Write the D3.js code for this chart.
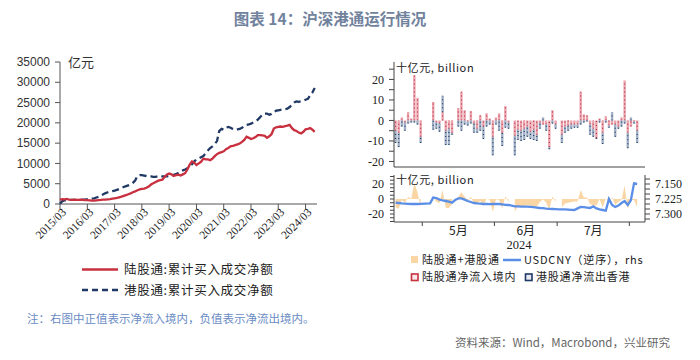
<!DOCTYPE html>
<html><head><meta charset="utf-8">
<script src="https://cdn.jsdelivr.net/npm/d3@7"></script>
<style>body{margin:0;background:#fff}svg{display:block}</style>
</head><body><div id="chart"></div>
<script>
// ---------- DATA ----------
// Left chart: monthly cumulative net buying (亿元), 2015/03 .. 2024/07
const leftStart = "2015/03";
const northCum = [1100,1200,1150,1250,1100,1000,1050,1000,1000,1050,
 1000,950,950,900,850,850,900,950,1000,1100,1100,1150,
 1200,1300,1400,1500,1650,1800,2000,2200,2400,2600,2900,3100,
 3400,3600,3700,3800,4000,4300,4800,5100,5400,5700,5900,6000,
 6700,7300,7500,7300,6900,7100,7200,7000,7300,7600,8500,9700,
 10500,10200,9600,10000,10400,11200,11000,11000,10800,11200,11800,12300,
 12600,12800,13000,13500,13800,14200,14300,14500,14700,14900,15300,15800,
 16600,16300,16000,16200,16500,17000,17000,16900,16800,16300,16700,17200,
 18600,18900,19000,19100,19000,19200,19300,19500,18700,18200,18000,17600,
 17400,17800,18400,18500,18700,18300,17800];
const southCum = [100,700,900,950,1000,1000,1000,1000,1000,1000,
 1050,1100,1200,1250,1300,1400,1600,1800,2100,2400,2700,2900,
 3100,3200,3300,3500,3700,4000,4200,4400,4600,4800,5200,5800,
 6900,7100,7100,7000,6900,6800,6800,6700,6700,6800,6700,6800,
 6800,6800,6900,7000,7200,7400,7600,8000,8300,8500,8800,9300,
 9800,10500,11000,11200,11500,11800,12500,13200,13800,14200,14800,15500,
 18000,18500,18300,18800,19000,18800,18500,18300,18400,18500,18800,19200,
 19500,19600,19800,20100,20400,20800,21400,22000,22300,22300,22000,22200,
 22600,23000,23100,23200,23300,23400,23500,23900,24500,25000,25300,25200,
 25300,25500,25700,25900,26800,27500,28600];
const leftYTicks = [0,5000,10000,15000,20000,25000,30000,35000];
const leftXTicks = ["2015/03","2016/03","2017/03","2018/03","2019/03","2020/03","2021/03","2022/03","2023/03","2024/03"];
const leftLegend = ["陆股通:累计买入成交净额","港股通:累计买入成交净额"];

// Right charts: daily flows (十亿元), weekdays 2024-04-18 .. 2024-08-07 (null = closed / no data)
const rightStart = "2024-04-18", rightEnd = "2024-08-07";
const northDaily = [-5,-6,1.5,-1,4,1,22,11,-8,null,null,null,9,-1,-1.5,4,-5,-4,-6,null,
 6,14,5,-0.5,4.5,-1.5,-4,2.5,-3,3.5,1,-8,1.5,3.5,-6,7,-1,null,-7.5,-4.5,
 -5,-4,-3,-5.5,-4.5,-7,-1,-2,-2,-13,5,-2,null,-7,-3,-2.5,-2,-2,-2,14,
 3,2.5,-2,-4,-8.5,1,-6,2,-2.5,-2,-2,-3,1.5,19.5,-6,-3,-0.5,-5,null,null];
const southDaily = [-6,-7,-3,-4,-1.5,-1,-1,-2,-3,null,null,null,-4.5,-3,-4,8,-7,-8,-1,null,
 -3,-5,-2,-2,-1.5,-4.5,-2,-5,-6,-3,-2,-9,-2,-5,-6.5,-3.5,-3,null,-9.5,-5,
 -5,-5.5,-5,-3.5,-5,-3,-3,1.5,-3,-1,-1.5,-2,null,-4,-3,-2.5,-2,-1.5,-1.5,-2,
 -1,-0.5,-5,-4,-0.5,-1,-5.5,-1,-1,4,-6,-1,-3,-1.5,-7.5,1.5,-1,-6,null,null];
const usdcny = [7.243,7.245,7.247,7.248,7.249,7.250,7.250,7.250,7.249,null,null,7.247,7.218,7.220,7.228,7.232,7.235,7.238,7.243,7.230,
 7.222,7.222,7.228,7.235,7.240,7.245,7.247,7.248,7.250,7.250,7.251,7.250,7.250,7.250,7.252,7.254,7.255,null,7.262,7.262,
 7.263,7.263,7.263,7.264,7.266,7.268,7.270,7.271,7.273,7.274,7.275,7.276,7.277,7.277,7.277,7.278,7.279,7.280,7.272,7.265,
 7.266,7.268,7.270,7.262,7.272,7.277,7.280,7.283,7.225,7.255,7.265,7.258,7.245,7.235,7.255,7.230,7.147,7.150,null,null];
const topYTicks = [-20,-15,-10,-5,0,5,10,15,20,25];
const topYLabels = [-20,-10,0,10,20];
const botYTicks = [-30,-25,-20,-15,-10,-5,0,5,10,15,20,25,30];
const botYLabels = [-20,0,20];
const fxTicks = [7.125,7.15,7.175,7.2,7.225,7.25,7.275,7.3,7.325];
const fxLabels = [7.15,7.225,7.3];
const monthLabels = ["5月","6月","7月"];
const yearLabel = "2024";
const unitLabel = "十亿元, billion";
const rightLegend = ["陆股通+港股通","USDCNY（逆序），rhs","陆股通净流入境内","港股通净流出香港"];

const titleText = "图表 14：沪深港通运行情况";
const noteText = "注：右图中正值表示净流入境内，负值表示净流出境内。";
const sourceText = "资料来源：Wind，Macrobond，兴业研究";

// ---------- STYLE ----------
const RED = "#c8303f", NAVY = "#1f3864", ORANGE = "#f9d6a4", BLUE = "#5b8ee6";
const CJK = "'Noto Sans CJK SC','Noto Sans',sans-serif";
const SERIF = "'Liberation Serif','DejaVu Serif',serif";
const SANS = "'Liberation Sans',Arial,sans-serif";

const svg = d3.select("#chart").append("svg").attr("width",700).attr("height",360);
svg.append("rect").attr("width",700).attr("height",360).attr("fill","#fff");

// Title
svg.append("text").attr("x",330).attr("y",25).attr("text-anchor","middle")
  .attr("font-family",CJK).attr("font-weight","bold").attr("font-size",15.5)
  .attr("fill","#71829d").text(titleText);

// ---------- LEFT CHART ----------
const parseM = d3.timeParse("%Y/%m");
const m0 = parseM(leftStart);
const months = northCum.map((_,i)=>d3.timeMonth.offset(m0,i));
const xL = d3.scaleTime().domain([m0, parseM("2024/08")]).range([60,317]);
const yL = d3.scaleLinear().domain([0,35000]).range([204,62]);

const gL = svg.append("g");
gL.append("line").attr("x1",60).attr("x2",60).attr("y1",62).attr("y2",204).attr("stroke","#555");
gL.append("line").attr("x1",60).attr("x2",317).attr("y1",204).attr("y2",204).attr("stroke","#555");
leftYTicks.forEach(v=>{
  gL.append("line").attr("x1",55).attr("x2",60).attr("y1",yL(v)).attr("y2",yL(v)).attr("stroke","#555");
  gL.append("text").attr("x",50).attr("y",yL(v)).attr("dy","0.35em").attr("text-anchor","end")
    .attr("font-family",SANS).attr("font-size",12).attr("fill","#333").text(v);
});
leftXTicks.forEach(t=>{
  const x = xL(parseM(t));
  gL.append("line").attr("x1",x).attr("x2",x).attr("y1",204).attr("y2",209).attr("stroke","#555");
  gL.append("text").attr("transform",`translate(${x+4},210) rotate(-45)`).attr("text-anchor","end")
    .attr("dy","0.35em").attr("font-family",SERIF).attr("font-size",11.5).attr("fill","#222").text(t);
});
gL.append("text").attr("x",68).attr("y",67).attr("font-family",CJK).attr("font-size",13).attr("fill","#333").text("亿元");

const lineL = d3.line().x((d,i)=>xL(months[i])).y(d=>yL(d));
gL.append("path").attr("d",lineL(southCum)).attr("fill","none").attr("stroke",NAVY)
  .attr("stroke-width",2.3).attr("stroke-dasharray","7,4");
gL.append("path").attr("d",lineL(northCum)).attr("fill","none").attr("stroke",RED).attr("stroke-width",2.3);

// left legend
[[269.5,RED,null],[290,NAVY,"6,4"]].forEach((r,i)=>{
  gL.append("line").attr("x1",82).attr("x2",118).attr("y1",r[0]).attr("y2",r[0]).attr("stroke",r[1])
    .attr("stroke-width",2.5).attr("stroke-dasharray",r[2]);
  gL.append("text").attr("x",124).attr("y",r[0]).attr("dy","0.36em").attr("font-family",CJK)
    .attr("font-size",12.5).attr("letter-spacing",0.7).attr("fill","#222").text(leftLegend[i]);
});

// ---------- RIGHT CHARTS ----------
const pD = d3.timeParse("%Y-%m-%d");
const days = d3.timeDay.range(pD(rightStart), d3.timeDay.offset(pD(rightEnd),1))
  .filter(d=>d.getDay()!==0 && d.getDay()!==6);
const idx = d3.range(days.length);
const xB = d3.scaleBand().domain(idx).range([394,645]).paddingInner(0.22).paddingOuter(0.1);
const xC = i => xB(i)+xB.bandwidth()/2;
const slotX = i => 394 + i*(251/days.length);

// Upper: stacked bars
const yU = d3.scaleLinear().domain([-22.7,28.5]).range([167,62]);
const gU = svg.append("g");
const rows = idx.filter(i=>northDaily[i]!==null).map(i=>({i, north:northDaily[i], south:southDaily[i]}));
const stack = d3.stack().keys(["north","south"]).offset(d3.stackOffsetDiverging);
const series = stack(rows);
const fills = {north:"#eaa5af", south:"#a3b1c6"}, strokes = {north:"#b8283c", south:"#1f3864"};
series.forEach(s=>{
  gU.selectAll(null).data(s).join("rect")
    .attr("x",d=>xB(d.data.i)).attr("width",xB.bandwidth())
    .attr("y",d=>yU(Math.max(d[0],d[1]))).attr("height",d=>Math.abs(yU(d[0])-yU(d[1])))
    .attr("fill",fills[s.key]);
  gU.selectAll(null).data(s).join("line")
    .attr("x1",d=>xC(d.data.i)).attr("x2",d=>xC(d.data.i))
    .attr("y1",d=>yU(d[0])).attr("y2",d=>yU(d[1]))
    .attr("stroke",strokes[s.key]).attr("stroke-width",1.1).attr("stroke-dasharray","1,3");
});
gU.append("line").attr("x1",394).attr("x2",394).attr("y1",62).attr("y2",167).attr("stroke","#444");
gU.append("line").attr("x1",394).attr("x2",645).attr("y1",167).attr("y2",167).attr("stroke","#444");
topYTicks.forEach(v=>{
  gU.append("line").attr("x1",389).attr("x2",394).attr("y1",yU(v)).attr("y2",yU(v)).attr("stroke","#444");
});
topYLabels.forEach(v=>{
  gU.append("text").attr("x",384).attr("y",yU(v)).attr("dy","0.35em").attr("text-anchor","end")
    .attr("font-family",SERIF).attr("font-size",12).attr("fill","#222").text(v);
});
gU.append("text").attr("x",396).attr("y",72).attr("font-family",CJK).attr("font-size",11)
  .attr("letter-spacing",0.6).attr("fill","#222").text(unitLabel);

// Lower: combined area + USDCNY
const yB = d3.scaleLinear().domain([-30.67,32]).range([222,175]);
const yFx = d3.scaleLinear().domain([7.34,7.105]).range([222,175]);
const gB = svg.append("g");
const area = d3.area().defined(i=>northDaily[i]!==null)
  .x(i=>xC(i)).y0(yB(0)).y1(i=>yB(northDaily[i]+southDaily[i]));
gB.append("path").attr("d",area(idx.filter(i=>i<=77))).attr("fill",ORANGE);
const fxIdx = idx.filter(i=>usdcny[i]!==null);
gB.append("path").attr("d",d3.line().x(i=>xC(i)).y(i=>yFx(usdcny[i]))(fxIdx))
  .attr("fill","none").attr("stroke",BLUE).attr("stroke-width",2.3);

gB.append("line").attr("x1",394).attr("x2",394).attr("y1",175).attr("y2",222).attr("stroke","#444");
gB.append("line").attr("x1",645).attr("x2",645).attr("y1",175).attr("y2",222).attr("stroke","#444");
gB.append("line").attr("x1",394).attr("x2",645).attr("y1",222).attr("y2",222).attr("stroke","#444");
botYTicks.forEach(v=>{
  gB.append("line").attr("x1",390).attr("x2",394).attr("y1",yB(v)).attr("y2",yB(v)).attr("stroke","#444");
});
botYLabels.forEach(v=>{
  gB.append("text").attr("x",384).attr("y",yB(v)).attr("dy","0.35em").attr("text-anchor","end")
    .attr("font-family",SERIF).attr("font-size",12).attr("fill","#222").text(v);
});
fxTicks.forEach(v=>{
  gB.append("line").attr("x1",645).attr("x2",650).attr("y1",yFx(v)).attr("y2",yFx(v)).attr("stroke","#444");
});
fxLabels.forEach(v=>{
  gB.append("text").attr("x",655).attr("y",yFx(v)).attr("dy","0.35em")
    .attr("font-family",SERIF).attr("font-size",12).attr("fill","#222").text(d3.format(".3f")(v));
});
gB.append("text").attr("x",396).attr("y",184).attr("font-family",CJK).attr("font-size",11)
  .attr("letter-spacing",0.6).attr("fill","#222").text(unitLabel);

// month boundaries
const bounds = idx.filter(i=>i>0 && days[i].getMonth()!==days[i-1].getMonth());
bounds.forEach(i=>{
  const x = slotX(i);
  gB.append("line").attr("x1",x).attr("x2",x).attr("y1",222).attr("y2",226).attr("stroke","#444");
});
monthLabels.forEach((m,k)=>{
  const x = (slotX(bounds[k])+slotX(bounds[k+1]))/2;
  gB.append("text").attr("x",x).attr("y",235).attr("text-anchor","middle")
    .attr("font-family",CJK).attr("font-size",12).attr("fill","#222").text(m);
});
gB.append("text").attr("x",519).attr("y",248.5).attr("text-anchor","middle")
  .attr("font-family",SERIF).attr("font-size",12.5).attr("fill","#222").text(yearLabel);

// right legend
const lg = svg.append("g").attr("font-family",CJK).attr("font-size",11).attr("fill","#222");
lg.append("rect").attr("x",411).attr("y",256).attr("width",7).attr("height",7).attr("fill",ORANGE);
lg.append("text").attr("x",422).attr("y",260).attr("dy","0.36em").attr("letter-spacing",0.8).text(rightLegend[0]);
lg.append("line").attr("x1",503).attr("x2",521).attr("y1",260).attr("y2",260).attr("stroke",BLUE).attr("stroke-width",2.5);
lg.append("text").attr("x",524).attr("y",260).attr("dy","0.36em").attr("letter-spacing",0.8).text(rightLegend[1]);
lg.append("rect").attr("x",411.5).attr("y",274).attr("width",6.5).attr("height",6.5).attr("fill","#fbe9ec").attr("stroke",RED).attr("stroke-width",1.6);
lg.append("text").attr("x",422).attr("y",277.5).attr("dy","0.36em").attr("letter-spacing",0.8).text(rightLegend[2]);
lg.append("rect").attr("x",525.5).attr("y",274).attr("width",6.5).attr("height",6.5).attr("fill","#e8ecf2").attr("stroke",NAVY).attr("stroke-width",1.6);
lg.append("text").attr("x",536).attr("y",277.5).attr("dy","0.36em").attr("letter-spacing",0.8).text(rightLegend[3]);

// note & source
svg.append("text").attr("x",27).attr("y",323).attr("font-family",CJK).attr("font-size",11.5)
  .attr("fill","#6a8cc4").text(noteText);
svg.append("text").attr("x",670).attr("y",347).attr("text-anchor","end").attr("font-family",CJK)
  .attr("font-size",11.5).attr("fill","#666").text(sourceText);
</script></body></html>
